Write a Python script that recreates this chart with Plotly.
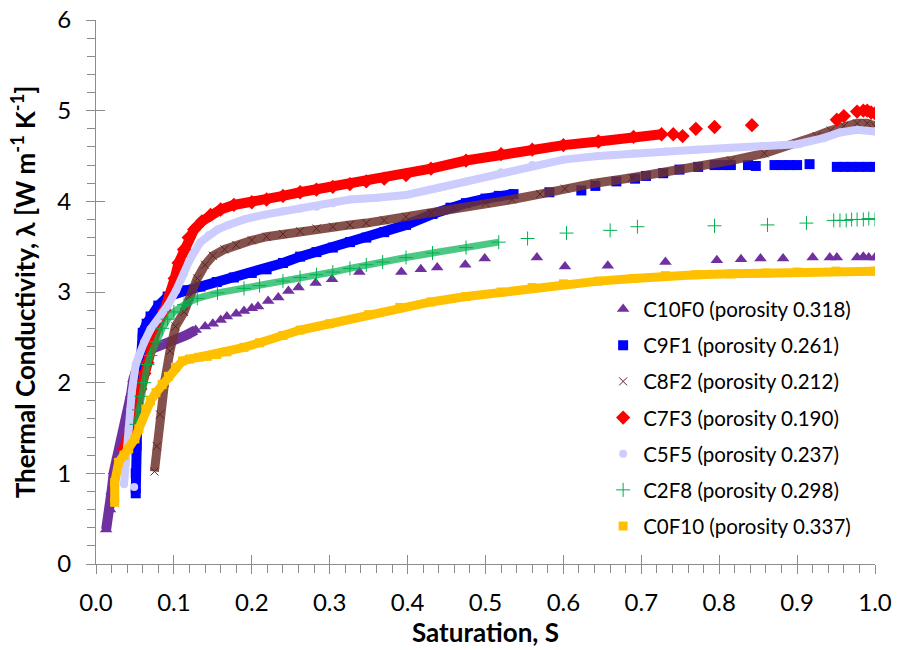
import plotly.graph_objects as go

# ---------------- data ----------------
names = ["C10F0 (porosity 0.318)", "C9F1 (porosity 0.261)", "C8F2 (porosity 0.212)",
         "C7F3 (porosity 0.190)", "C5F5 (porosity 0.237)", "C2F8 (porosity 0.298)",
         "C0F10 (porosity 0.337)"]

# C10F0
c10_dense_s = [0.013, 0.018, 0.020, 0.023, 0.028, 0.032, 0.037, 0.041, 0.045, 0.048, 0.052, 0.057,
               0.065, 0.079, 0.100, 0.115, 0.128]
c10_dense_l = [0.38, 0.60, 0.80, 1.02, 1.20, 1.32, 1.50, 1.68, 1.87, 2.04, 2.15, 2.27,
               2.35, 2.41, 2.47, 2.52, 2.58]
c10_sparse_s = [0.140, 0.150, 0.160, 0.168, 0.180, 0.190, 0.200, 0.208, 0.221, 0.234, 0.247, 0.260,
                0.282, 0.303, 0.338, 0.392, 0.417, 0.438, 0.474, 0.499, 0.566, 0.602, 0.657,
                0.731, 0.797, 0.828, 0.853, 0.882, 0.920, 0.942, 0.951, 0.977, 0.985, 0.992, 1.0]
c10_sparse_l = [2.62, 2.65, 2.69, 2.73, 2.76, 2.79, 2.82, 2.84, 2.90, 2.94, 3.01, 3.05,
                3.10, 3.14, 3.22, 3.22, 3.25, 3.27, 3.30, 3.37, 3.38, 3.28, 3.29,
                3.33, 3.35, 3.36, 3.37, 3.37, 3.38, 3.38, 3.38, 3.38, 3.39, 3.38, 3.38]

# C9F1
c9_dense_s = [0.051, 0.051, 0.052, 0.053, 0.055, 0.057, 0.060, 0.065, 0.070, 0.080, 0.092, 0.105,
              0.117, 0.134, 0.155, 0.177, 0.200, 0.219, 0.240, 0.262, 0.283, 0.304, 0.326, 0.347,
              0.370, 0.398, 0.432, 0.455, 0.475, 0.500, 0.517, 0.536]
c9_dense_l = [0.78, 1.00, 1.30, 1.60, 1.90, 2.25, 2.55, 2.65, 2.73, 2.85, 2.95, 3.00,
              3.02, 3.06, 3.11, 3.16, 3.21, 3.25, 3.32, 3.39, 3.44, 3.49, 3.55, 3.60,
              3.66, 3.74, 3.86, 3.93, 3.98, 4.03, 4.06, 4.08]
c9_sparse_s = [0.582, 0.623, 0.641, 0.668, 0.692, 0.706, 0.728, 0.749, 0.773, 0.794, 0.805, 0.815,
               0.837, 0.847, 0.871, 0.880, 0.890, 0.900, 0.916, 0.951, 0.960, 0.970, 0.980, 0.990, 1.0]
c9_sparse_l = [4.10, 4.12, 4.17, 4.22, 4.25, 4.28, 4.31, 4.35, 4.38, 4.40, 4.40, 4.40,
               4.40, 4.39, 4.40, 4.40, 4.40, 4.40, 4.41, 4.38, 4.38, 4.38, 4.38, 4.38, 4.38]

# C8F2
c8_dense_s = [0.075, 0.078, 0.082, 0.088, 0.095, 0.102, 0.113, 0.120, 0.130, 0.140, 0.150, 0.165,
              0.180, 0.200, 0.219, 0.240, 0.262, 0.283, 0.304, 0.326, 0.347, 0.370, 0.398, 0.430,
              0.460, 0.500, 0.534, 0.570, 0.602, 0.640, 0.688, 0.730, 0.773, 0.815, 0.858, 0.900,
              0.925, 0.943, 0.960, 0.977, 0.990, 1.0]
c8_dense_l = [1.02, 1.30, 1.65, 2.00, 2.35, 2.62, 2.78, 2.95, 3.15, 3.30, 3.40, 3.47,
              3.52, 3.57, 3.61, 3.64, 3.67, 3.70, 3.72, 3.74, 3.76, 3.79, 3.83, 3.87,
              3.93, 3.98, 4.02, 4.08, 4.14, 4.20, 4.26, 4.32, 4.38, 4.45, 4.53, 4.64,
              4.72, 4.78, 4.83, 4.86, 4.86, 4.83]
c8_sparse_s = []
c8_sparse_l = []

# C7F3
c7_dense_s = [0.036, 0.042, 0.047, 0.052, 0.057, 0.062, 0.066, 0.072, 0.078, 0.088, 0.096, 0.101,
              0.106, 0.113, 0.119, 0.126, 0.136, 0.147, 0.160, 0.177, 0.200, 0.219, 0.240, 0.262,
              0.283, 0.304, 0.326, 0.347, 0.370, 0.398, 0.430, 0.475, 0.520, 0.560, 0.600, 0.645,
              0.690, 0.726]
c7_dense_l = [1.27, 1.40, 1.55, 1.75, 1.93, 2.10, 2.22, 2.42, 2.60, 2.80, 2.98, 3.15,
              3.32, 3.47, 3.60, 3.69, 3.78, 3.85, 3.91, 3.96, 3.99, 4.02, 4.06, 4.10,
              4.13, 4.16, 4.19, 4.22, 4.25, 4.29, 4.36, 4.45, 4.52, 4.57, 4.62, 4.66,
              4.71, 4.74]
c7_sparse_s = [0.741, 0.753, 0.770, 0.794, 0.842, 0.951, 0.960, 0.977, 0.985, 0.990, 0.995, 1.0]
c7_sparse_l = [4.74, 4.72, 4.80, 4.82, 4.84, 4.90, 4.94, 4.99, 5.00, 5.00, 4.98, 4.97]

# C5F5
c5_dense_s = [0.036, 0.038, 0.040, 0.042, 0.044, 0.046, 0.051, 0.055, 0.062, 0.070, 0.080, 0.092,
              0.103, 0.113, 0.120, 0.134, 0.145, 0.156, 0.170, 0.190, 0.215, 0.240, 0.262, 0.283,
              0.304, 0.326, 0.360, 0.398, 0.440, 0.475, 0.520, 0.560, 0.600, 0.645, 0.690, 0.731,
              0.770, 0.815, 0.858, 0.900, 0.935, 0.955, 0.977, 1.0]
c5_dense_l = [0.88, 1.10, 1.30, 1.50, 1.70, 1.90, 2.20, 2.30, 2.45, 2.59, 2.70, 2.85,
              3.02, 3.20, 3.35, 3.55, 3.63, 3.69, 3.74, 3.80, 3.85, 3.89, 3.92, 3.94,
              3.98, 4.02, 4.04, 4.07, 4.15, 4.22, 4.32, 4.40, 4.46, 4.50, 4.53, 4.55,
              4.57, 4.59, 4.61, 4.63, 4.70, 4.76, 4.79, 4.77]
c5_sparse_s = [0.049]
c5_sparse_l = [0.85]

# C2F8
c2_dense_s = [0.052, 0.055, 0.058, 0.062, 0.066, 0.070, 0.077, 0.085, 0.092, 0.100, 0.113, 0.130,
              0.156, 0.190, 0.210, 0.240, 0.262, 0.283, 0.304, 0.326, 0.347, 0.368, 0.398, 0.432,
              0.475, 0.517]
c2_dense_l = [1.54, 1.70, 1.85, 2.00, 2.20, 2.30, 2.45, 2.60, 2.70, 2.78, 2.86, 2.93,
              2.99, 3.04, 3.07, 3.12, 3.16, 3.19, 3.22, 3.26, 3.30, 3.33, 3.38, 3.43,
              3.49, 3.55]
c2_sparse_s = [0.554, 0.604, 0.660, 0.695, 0.794, 0.862, 0.912, 0.947, 0.955, 0.963, 0.970, 0.977,
               0.985, 0.992, 1.0]
c2_sparse_l = [3.59, 3.65, 3.68, 3.72, 3.73, 3.74, 3.76, 3.79, 3.79, 3.79, 3.80, 3.80,
               3.80, 3.81, 3.80]

# C0F10
c0_dense_s = [0.024, 0.024, 0.029, 0.036, 0.042, 0.050, 0.055, 0.064, 0.070, 0.077, 0.085, 0.093,
              0.102, 0.111, 0.120, 0.132, 0.143, 0.155, 0.168, 0.190, 0.210, 0.240, 0.262, 0.300,
              0.350, 0.390, 0.430, 0.475, 0.520, 0.560, 0.600, 0.645, 0.690, 0.731, 0.770, 0.815,
              0.860, 0.900, 0.950, 1.0]
c0_dense_l = [0.68, 0.90, 1.12, 1.20, 1.27, 1.38, 1.49, 1.71, 1.80, 1.89, 1.98, 2.07,
              2.17, 2.24, 2.26, 2.28, 2.29, 2.31, 2.34, 2.39, 2.44, 2.52, 2.58, 2.65,
              2.75, 2.83, 2.89, 2.95, 3.00, 3.05, 3.09, 3.12, 3.15, 3.18, 3.19, 3.20,
              3.21, 3.22, 3.23, 3.23]
c0_sparse_s = []
c0_sparse_l = []

x_ticks = [0.0, 0.1, 0.2, 0.3, 0.4, 0.5, 0.6, 0.7, 0.8, 0.9, 1.0]
x_ticktext = ["0.0", "0.1", "0.2", "0.3", "0.4", "0.5", "0.6", "0.7", "0.8", "0.9", "1.0"]
y_ticks = [0, 1, 2, 3, 4, 5, 6]

# ---------------- styles ----------------
series = [
    (c10_dense_s, c10_dense_l, c10_sparse_s, c10_sparse_l,
     dict(color="#7030A0", symbol="triangle-up", size=11), "#7030A0", 10),
    (c9_dense_s, c9_dense_l, c9_sparse_s, c9_sparse_l,
     dict(color="#0000FF", symbol="square", size=10), "#0000FF", 10),
    (c8_dense_s, c8_dense_l, c8_sparse_s, c8_sparse_l,
     dict(color="#5B2520", symbol="x-thin-open", size=8, line=dict(width=1, color="#5B2520")),
     "rgba(110,50,45,0.85)", 9),
    (c7_dense_s, c7_dense_l, c7_sparse_s, c7_sparse_l,
     dict(color="#FF0000", symbol="diamond", size=11), "#FF0000", 10),
    (c5_dense_s, c5_dense_l, c5_sparse_s, c5_sparse_l,
     dict(color="#CCCCFF", symbol="circle", size=8), "#CCCCFF", 8),
    (c2_dense_s, c2_dense_l, c2_sparse_s, c2_sparse_l,
     dict(color="#00B050", symbol="cross-thin-open", size=10, line=dict(width=1, color="#00B050")),
     "rgba(0,176,80,0.7)", 7),
    (c0_dense_s, c0_dense_l, c0_sparse_s, c0_sparse_l,
     dict(color="#FFC000", symbol="square", size=9), "#FFC000", 9),
]

fig = go.Figure()
for i, (ds, dl, ss, sl, mk, lc, lw) in enumerate(series):
    fig.add_trace(go.Scatter(x=ds, y=dl, mode="lines", line=dict(color=lc, width=lw),
                             showlegend=False, legendgroup=f"g{i}", hoverinfo="skip"))
    fig.add_trace(go.Scatter(x=ds + ss, y=dl + sl, mode="markers", marker=mk,
                             name=names[i], legendgroup=f"g{i}"))

# invisible trace for the overlay axes (cross-type major ticks)
fig.add_trace(go.Scatter(x=[None], y=[None], xaxis="x2", yaxis="y2", showlegend=False,
                         hoverinfo="skip"))

axcol = "#8C8C8C"
font_family = "Lato, 'Open Sans', sans-serif"

fig.update_layout(
    width=897, height=650,
    margin=dict(l=96, r=22, t=20, b=86, autoexpand=False),
    paper_bgcolor="white", plot_bgcolor="white",
    font=dict(family=font_family, color="black"),
    xaxis=dict(range=[0, 1.0], tickvals=x_ticks, ticktext=x_ticktext, automargin=False,
               showgrid=False, zeroline=False, showline=True, linecolor=axcol, linewidth=1,
               ticks="outside", ticklen=9, tickcolor=axcol, tickwidth=1,
               tickfont=dict(size=24, family=font_family, color="black"),
               ticklabelstandoff=8,
               minor=dict(dtick=0.02, tick0=0, ticks="outside", ticklen=8, tickcolor=axcol,
                          showgrid=False),
               title=dict(text="<b>Saturation, S</b>", font=dict(size=26, family=font_family),
                          standoff=6)),
    yaxis=dict(range=[0, 6], tickvals=y_ticks, automargin=False,
               showgrid=False, zeroline=False, showline=True, linecolor=axcol, linewidth=1,
               ticks="outside", ticklen=9, tickcolor=axcol, tickwidth=1,
               tickfont=dict(size=24, family=font_family, color="black"),
               ticklabelstandoff=10,
               minor=dict(dtick=0.2, tick0=0, ticks="outside", ticklen=8, tickcolor=axcol,
                          showgrid=False),
               title=dict(text="<b>Thermal Conductivity, λ [W m<sup>-1</sup> K<sup>-1</sup>]</b>",
                          font=dict(size=26, family=font_family), standoff=14)),
    xaxis2=dict(range=[0, 1.0], overlaying="x", anchor="y2", side="bottom", automargin=False,
                tickvals=x_ticks, showticklabels=False, ticks="inside", ticklen=9,
                tickcolor=axcol, showgrid=False, zeroline=False, showline=False),
    yaxis2=dict(range=[0, 6], overlaying="y", anchor="x2", side="left", automargin=False,
                tickvals=y_ticks, showticklabels=False, ticks="inside", ticklen=9,
                tickcolor=axcol, showgrid=False, zeroline=False, showline=False),
    legend=dict(x=0.651, y=0.505, xanchor="left", yanchor="top",
                font=dict(size=20.5, family=font_family, color="black"),
                bgcolor="rgba(0,0,0,0)", traceorder="grouped", tracegroupgap=6.5,
                itemsizing="trace"),
)

fig.write_html("out.html")
